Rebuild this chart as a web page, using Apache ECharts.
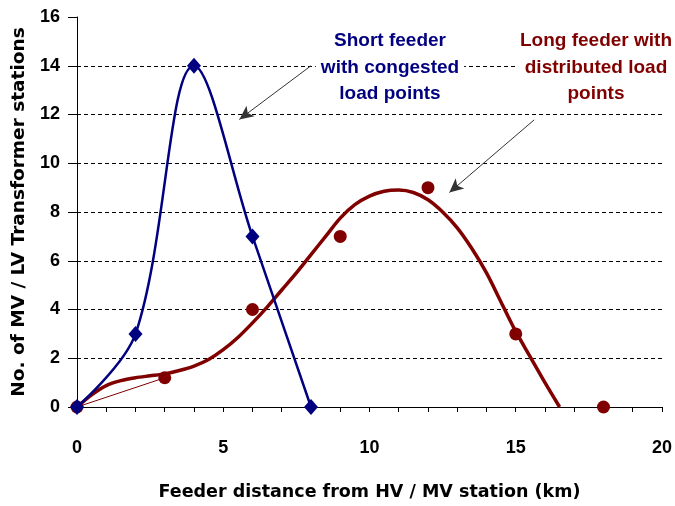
<!DOCTYPE html>
<html>
<head>
<meta charset="utf-8">
<script src="https://cdn.jsdelivr.net/npm/echarts@6/dist/echarts.min.js"></script>
<style>
  html, body { margin: 0; padding: 0; background: #fff; }
  #chart { width: 675px; height: 506px; }
</style>
</head>
<body>
<div id="chart"></div>
<script>
// short feeder (blue diamonds, smoothed line)
const shortX = [0, 2, 4, 6, 8]
const shortY = [0, 3, 14, 7, 0]

// long feeder (red dots)
const longX = [0, 3, 6, 9, 12, 15, 18]
const longY = [0, 1.2, 4, 7, 9, 3, 0]

// trend curve of the long feeder
const trendX = [0, 0.5, 1, 1.5, 2, 2.5, 3, 3.5, 4, 4.5, 5, 5.5, 6, 6.5, 7, 7.5, 8, 8.5, 9, 9.5, 10, 10.5, 11, 11.5, 12, 12.5, 13, 13.5, 14, 14.5, 15, 15.5, 16, 16.5]
const trendY = [0, 0.5, 0.88, 1.08, 1.2, 1.28, 1.36, 1.5, 1.68, 1.95, 2.35, 2.85, 3.45, 4.1, 4.8, 5.5, 6.25, 7.0, 7.75, 8.3, 8.65, 8.85, 8.9, 8.8, 8.5, 8.0, 7.35, 6.5, 5.5, 4.3, 3.1, 2.05, 1.0, 0]

const yTicks = [0, 2, 4, 6, 8, 10, 12, 14, 16]
const xTicks = [0, 5, 10, 15, 20]

const pairs = (xs, ys) => xs.map((x, i) => [x, ys[i]])

const chart = echarts.init(document.getElementById('chart'))

const font = '"Liberation Sans", Arial, sans-serif'
const wideFont = '"DejaVu Sans", Verdana, sans-serif'
const navy = '#000080'
const maroon = '#800000'

const option = {
  animation: false,
  backgroundColor: '#fff',
  grid: { left: 77, right: 12, top: 17, bottom: 98 },
  xAxis: {
    type: 'value',
    min: xTicks[0],
    max: xTicks[xTicks.length - 1],
    interval: 5,
    name: 'Feeder distance from HV / MV station (km)',
    nameLocation: 'middle',
    nameGap: 76,
    nameTextStyle: { fontFamily: wideFont, fontWeight: 'bold', fontSize: 17.5, color: '#000' },
    axisLine: { lineStyle: { color: '#000', width: 1 } },
    axisTick: { length: 5, lineStyle: { color: '#000' } },
    minorTick: { show: true, splitNumber: 5, length: 5, lineStyle: { color: '#000' } },
    axisLabel: { fontFamily: font, fontWeight: 'bold', fontSize: 18, color: '#000', margin: 32 },
    splitLine: { show: false }
  },
  yAxis: {
    type: 'value',
    min: yTicks[0],
    max: yTicks[yTicks.length - 1],
    interval: 2,
    name: 'No. of MV / LV Transformer stations',
    nameLocation: 'middle',
    nameGap: 44,
    nameTextStyle: { fontFamily: wideFont, fontWeight: 'bold', fontSize: 18.5, color: '#000' },
    axisLine: { show: true, lineStyle: { color: '#000', width: 1 } },
    axisTick: { show: true, length: 9, lineStyle: { color: '#000' } },
    axisLabel: { fontFamily: font, fontWeight: 'bold', fontSize: 18, color: '#000', margin: 17 },
    splitLine: {
      show: true,
      showMinLine: false,
      showMaxLine: false,
      lineStyle: { color: '#000', type: [4, 3], width: 1 }
    }
  },
  series: [
    {
      name: 'trend',
      type: 'line',
      data: pairs(trendX, trendY),
      smooth: 0.3,
      showSymbol: false,
      lineStyle: { color: maroon, width: 3.5 },
      z: 2
    },
    {
      name: 'first segment',
      type: 'line',
      data: pairs(longX.slice(0, 2), longY.slice(0, 2)),
      showSymbol: false,
      lineStyle: { color: maroon, width: 1 },
      z: 2
    },
    {
      name: 'Long feeder',
      type: 'scatter',
      data: pairs(longX, longY),
      symbol: 'circle',
      symbolSize: 13,
      itemStyle: { color: maroon, opacity: 1 },
      z: 3,
      markLine: {
        silent: true,
        symbol: ['none', 'arrow'],
        symbolSize: [10, 14],
        label: { show: false },
        lineStyle: { color: '#333', width: 1, type: 'solid' },
        data: [
          [{ coord: [15.63, 11.78] }, { coord: [12.73, 8.8] }],
          [{ coord: [8.0, 14.0] }, { coord: [5.55, 11.8] }]
        ]
      }
    },
    {
      name: 'Short feeder',
      type: 'line',
      data: pairs(shortX, shortY),
      smooth: 0.35,
      symbol: 'diamond',
      symbolSize: [14, 16],
      lineStyle: { color: navy, width: 2.5 },
      itemStyle: { color: navy },
      z: 4
    }
  ],
  graphic: [
    {
      type: 'text',
      x: 390,
      y: 28,
      z: 20,
      style: {
        text: 'Short feeder\nwith congested\nload points',
        fill: navy,
        font: 'bold 19px ' + font,
        align: 'center',
        verticalAlign: 'top',
        lineHeight: 26.5,
        backgroundColor: '#fff',
        padding: [0, 5]
      }
    },
    {
      type: 'text',
      x: 596,
      y: 28,
      z: 20,
      style: {
        text: 'Long feeder with\ndistributed load\npoints',
        fill: maroon,
        font: 'bold 19px ' + font,
        align: 'center',
        verticalAlign: 'top',
        lineHeight: 26.5,
        backgroundColor: '#fff',
        padding: [0, 4]
      }
    }
  ]
}

chart.setOption(option)
</script>
</body>
</html>
